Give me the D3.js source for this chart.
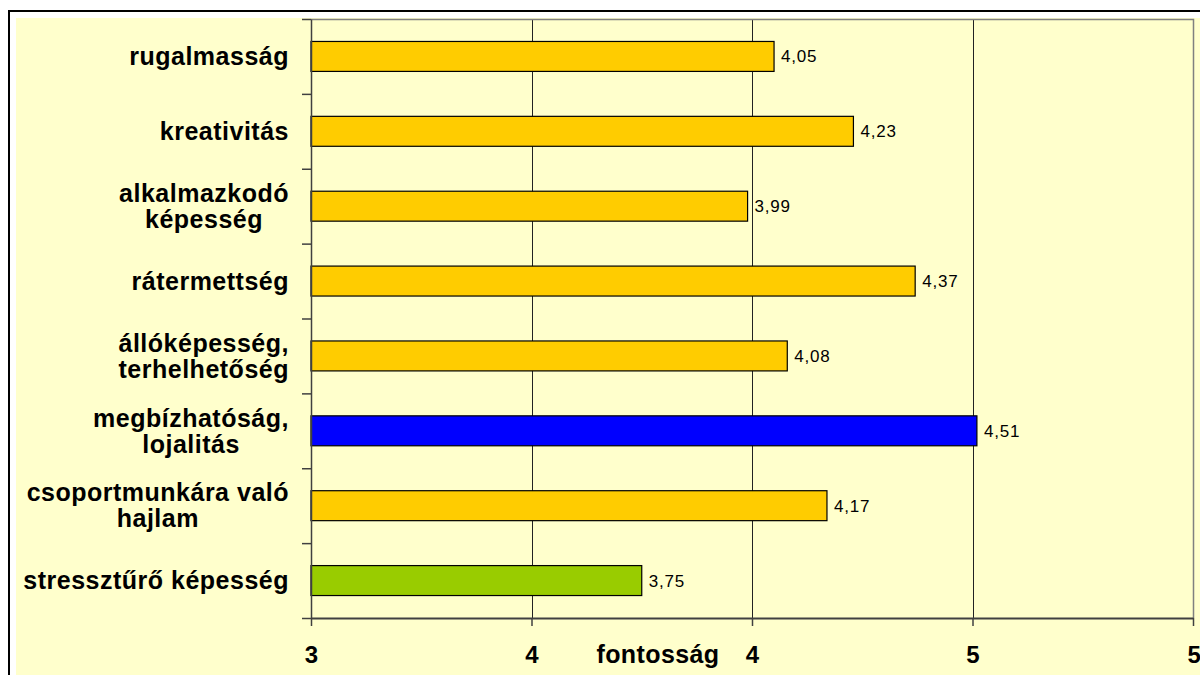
<!DOCTYPE html>
<html>
<head>
<meta charset="utf-8">
<script src="https://cdn.jsdelivr.net/npm/d3@7"></script>
<style>
  html, body { margin: 0; padding: 0; background: #ffffff; }
  svg { display: block; }
</style>
</head>
<body>
<svg id="chart" width="1200" height="675"></svg>
<script>
// Skill ratings ("fontosság" = importance), top to bottom
const categories = [
  ["rugalmasság"],
  ["kreativitás"],
  ["alkalmazkodó", "képesség"],
  ["rátermettség"],
  ["állóképesség,", "terhelhetőség"],
  ["megbízhatóság,", "lojalitás"],
  ["csoportmunkára való", "hajlam"],
  ["stressztűrő képesség"]
];
const values = [4.05, 4.23, 3.99, 4.37, 4.08, 4.51, 4.17, 3.75];
const barColors = ["#FFCC00", "#FFCC00", "#FFCC00", "#FFCC00", "#FFCC00", "#0000FF", "#FFCC00", "#99CC00"];
const xTicks = [3, 3.5, 4, 4.5, 5];
const xDomain = [3, 5];
const axisTitle = "fontosság";

const svg = d3.select("#chart");
const plot = { left: 311, right: 1193, top: 19, bottom: 618 };
const BG = "#FFFFCC";
const FONT = "'Liberation Sans', Arial, sans-serif";

// outer frame and chart area
svg.append("rect").attr("x", 9).attr("y", 11).attr("width", 1250).attr("height", 700)
  .attr("fill", "#ffffff").attr("stroke", "#000").attr("stroke-width", 2);
svg.append("rect").attr("x", 16).attr("y", 18).attr("width", 1250).attr("height", 700)
  .attr("fill", BG);

const x = d3.scaleLinear().domain(xDomain).range([plot.left, plot.right]);
const keys = categories.map((c, i) => i);
const y = d3.scaleBand().domain(keys).range([plot.top, plot.bottom])
  .paddingInner(0.6).paddingOuter(0.3);

// gridlines
svg.append("g")
  .selectAll("line").data(xTicks.filter(t => t > xDomain[0] && t < xDomain[1]))
  .join("line")
  .attr("x1", d => Math.round(x(d)) + 0.5).attr("x2", d => Math.round(x(d)) + 0.5)
  .attr("y1", plot.top).attr("y2", plot.bottom)
  .attr("stroke", "#222").attr("stroke-width", 1);

// plot border top/right
svg.append("path")
  .attr("d", `M${plot.left},${plot.top + 0.5}H${plot.right + 0.5}V${plot.bottom}`)
  .attr("fill", "none").attr("stroke", "#808080").attr("stroke-width", 1.5);

// bars
svg.append("g").selectAll("rect").data(values).join("rect")
  .attr("x", x(xDomain[0]))
  .attr("y", (d, i) => y(i))
  .attr("width", d => x(d) - x(xDomain[0]))
  .attr("height", y.bandwidth())
  .attr("fill", (d, i) => barColors[i])
  .attr("stroke", "#000").attr("stroke-width", 1.2);

// value labels
svg.append("g").selectAll("text").data(values).join("text")
  .attr("x", d => x(d) + 7)
  .attr("y", (d, i) => y(i) + y.bandwidth() / 2)
  .attr("dy", "0.35em")
  .attr("font-family", FONT)
  .attr("font-size", 17)
  .attr("letter-spacing", 0.8)
  .attr("fill", "#000")
  .text(d => d.toFixed(2).replace(".", ","));

// y axis with ticks at category boundaries
const yb = d3.scaleLinear().domain([0, categories.length]).range([plot.top, plot.bottom]);
const yAxis = svg.append("g").attr("transform", `translate(${plot.left},0)`)
  .call(d3.axisLeft(yb).ticks(categories.length).tickSize(9).tickFormat("").tickSizeOuter(0));
yAxis.selectAll("line, path").attr("stroke", "#404040").attr("stroke-width", 1.5);

// x axis
const xAxis = svg.append("g").attr("transform", `translate(0,${plot.bottom})`)
  .call(d3.axisBottom(x).tickValues(xTicks).tickSize(8).tickSizeOuter(0)
    .tickFormat(d => d.toFixed(0)));
xAxis.select(".domain").attr("stroke", "#404040").attr("stroke-width", 2);
xAxis.selectAll(".tick line").attr("stroke", "#404040").attr("stroke-width", 1.5);
xAxis.selectAll(".tick text")
  .attr("y", 0).attr("dy", null)
  .attr("transform", "translate(0,45)")
  .attr("font-family", FONT)
  .attr("font-size", 24).attr("font-weight", "bold").attr("fill", "#000");
xAxis.select(".tick:last-of-type text").attr("text-anchor", "start").attr("dx", -6);

// axis title
svg.append("text")
  .attr("x", 658).attr("y", 663)
  .attr("text-anchor", "middle")
  .attr("font-family", FONT)
  .attr("font-size", 25).attr("font-weight", "bold")
  .attr("letter-spacing", 0.4)
  .text(axisTitle);

// category labels: lines centred within a right-aligned block
const labelRight = 289;
const lineH = 26;
const lab = svg.append("g")
  .attr("font-family", FONT)
  .attr("font-size", 25).attr("font-weight", "bold")
  .attr("letter-spacing", 0.5).attr("fill", "#000");
categories.forEach((lines, i) => {
  const cy = y(i) + y.bandwidth() / 2;
  const t = lab.append("text").attr("text-anchor", "middle");
  lines.forEach((ln, j) => {
    t.append("tspan").attr("y", cy + (j - (lines.length - 1) / 2) * lineH).attr("dy", "0.35em").text(ln);
  });
  let w = 0;
  t.selectAll("tspan").each(function () { w = Math.max(w, this.getComputedTextLength()); });
  t.selectAll("tspan").attr("x", labelRight - w / 2);
});
</script>
</body>
</html>
